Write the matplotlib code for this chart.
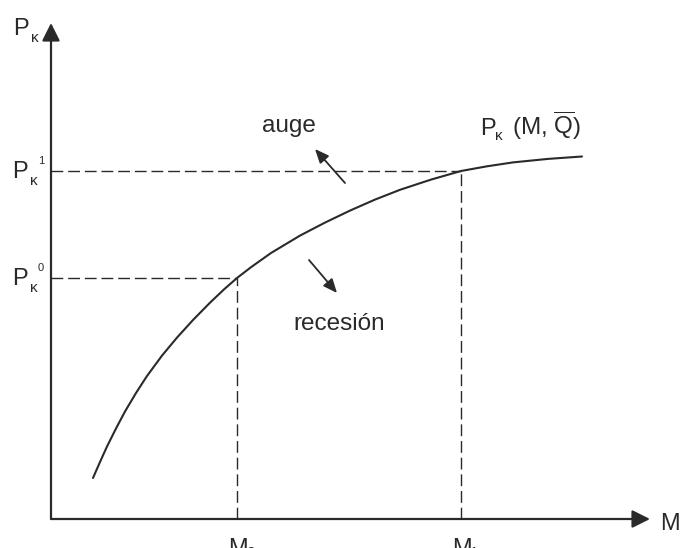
import matplotlib.pyplot as plt
from matplotlib import rcParams

rcParams["font.family"] = ["Liberation Sans", "DejaVu Sans"]
rcParams["mathtext.fontset"] = "custom"
rcParams["mathtext.rm"] = "Liberation Sans"

# curve P_k(M, Q) (origin at the axes corner)
curve_m = [42, 49, 56, 65, 74, 85, 96, 111, 126, 142, 159, 173, 186,
           200, 220, 249, 274, 299, 324, 349, 380, 410, 436, 462, 497, 531]
curve_p = [41, 57, 72.5, 90.5, 107.5, 126, 143, 163.4, 181.4, 199, 216.3,
           229.6, 241, 251.8, 266, 283.4, 296.4, 308.4, 319.4, 329.2, 339.4,
           348, 352.7, 356.6, 360.1, 362.5]

# the two marked points on the curve
m_points = [186, 410]
p_points = [241, 348]
m_labels = ["0", "1"]
p_labels = ["0", "1"]

ink = "#2a2a2a"

if __name__ == '__main__':
    fig = plt.figure(figsize=(6.82, 5.48), dpi=100)
    ax = fig.add_axes([0, 0, 1, 1])
    ax.set_xlim(-51, 631)
    ax.set_ylim(-29, 519)
    ax.axis("off")

    # axes with arrow heads
    ax.annotate("", xy=(0, 496), xytext=(0, 0),
                arrowprops=dict(arrowstyle="-|>,head_length=0.6,head_width=0.3",
                                mutation_scale=18, color=ink, lw=1.6,
                                shrinkA=0, shrinkB=0))
    ax.annotate("", xy=(599, 0), xytext=(0, 0),
                arrowprops=dict(arrowstyle="-|>,head_length=0.6,head_width=0.3",
                                mutation_scale=18, color=ink, lw=1.6,
                                shrinkA=0, shrinkB=0))

    # the curve
    ax.plot(curve_m, curve_p, color=ink, lw=1.5, solid_capstyle="round",
            solid_joinstyle="round")

    # dashed guide lines
    for m, p in zip(m_points, p_points):
        ax.plot([0, m], [p, p], color=ink, lw=1.0, dashes=(8.5, 3.5))
        ax.plot([m, m], [0, p], color=ink, lw=1.0, dashes=(8.5, 3.5))

    # axis labels
    ax.text(-38, 484, "P", fontsize=17, color=ink, ha="left", va="baseline")
    ax.text(-20, 477, "κ", fontsize=11, color=ink, ha="left", va="baseline")
    ax.text(609, -11, "M", fontsize=17, color=ink, ha="left", va="baseline")

    # P^0, P^1 labels on the y axis
    for p, lab in zip(p_points, p_labels):
        ax.text(-39, p - 7, "P", fontsize=17, color=ink, ha="left", va="baseline")
        ax.text(-21, p - 14, "κ", fontsize=11, color=ink, ha="left", va="baseline")
        ax.text(-13, p + 7, lab, fontsize=8, color=ink, ha="left", va="baseline")

    # M0, M1 labels on the x axis (cut by the lower edge, as in the original)
    for m, lab in zip(m_points, m_labels):
        ax.text(m - 9, -19, "M", fontsize=17, color=ink, ha="left", va="top")
        ax.text(m + 9, -27, lab, fontsize=11, color=ink, ha="left", va="top")

    # curve label
    ax.text(429, 384, "P", fontsize=17, color=ink, ha="left", va="baseline")
    ax.text(444, 379, "κ", fontsize=11, color=ink, ha="left", va="baseline")
    ax.text(461, 384, r"(M, $\overline{\mathrm{Q}}$)", fontsize=17.5, color=ink,
            ha="left", va="baseline")

    # shift arrows
    ax.text(211, 387, "auge", fontsize=17.5, color=ink, ha="left", va="baseline")
    ax.annotate("", xy=(264, 370), xytext=(294, 336),
                arrowprops=dict(arrowstyle="-|>,head_length=0.7,head_width=0.3",
                                mutation_scale=12, color=ink, lw=1.3,
                                shrinkA=0, shrinkB=0))
    ax.text(242, 189, "recesión", fontsize=17.5, color=ink, ha="left", va="baseline")
    ax.annotate("", xy=(286, 226), xytext=(258, 259),
                arrowprops=dict(arrowstyle="-|>,head_length=0.7,head_width=0.3",
                                mutation_scale=12, color=ink, lw=1.3,
                                shrinkA=0, shrinkB=0))

    fig.savefig("out.png", dpi=100)
